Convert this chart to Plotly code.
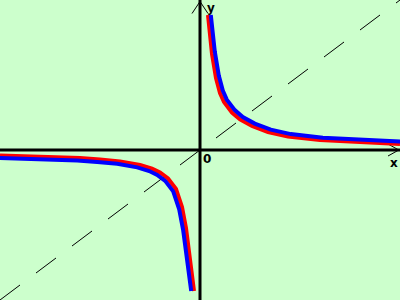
import plotly.graph_objects as go

# Red curve, first and third quadrants
red_q1_x = [0.2, 0.3, 0.4, 0.5, 0.6, 0.8, 1.0, 1.3, 1.7, 2.2, 3.0, 4.0, 5.0]
red_q1_y = [4.5, 3.2, 2.4, 1.9, 1.6, 1.25, 1.02, 0.8, 0.6, 0.45, 0.33, 0.25, 0.2]
red_q3_x = [-5.0, -4.0, -3.0, -2.5, -2.0, -1.5, -1.2, -1.0, -0.8, -0.6, -0.45, -0.35, -0.25, -0.15]
red_q3_y = [-0.18, -0.21, -0.27, -0.32, -0.38, -0.5, -0.62, -0.75, -0.95, -1.3, -1.9, -2.6, -3.6, -4.7]

# Blue curve
blue_q1_x = [0.27, 0.37, 0.47, 0.57, 0.67, 0.87, 1.07, 1.37, 1.77, 2.27, 3.07, 4.07, 5.07]
blue_q1_y = [4.5, 3.28, 2.48, 1.98, 1.68, 1.33, 1.1, 0.88, 0.68, 0.53, 0.41, 0.33, 0.28]
blue_q3_x = [-5.07, -4.07, -3.07, -2.57, -2.07, -1.57, -1.27, -1.07, -0.87, -0.67, -0.52, -0.42, -0.32, -0.22]
blue_q3_y = [-0.26, -0.29, -0.35, -0.4, -0.46, -0.58, -0.7, -0.83, -1.03, -1.38, -1.98, -2.68, -3.68, -4.7]

# Axis extent
axis_min, axis_max = -5, 5
diag_x = [axis_min, axis_max]
diag_y = [axis_min, axis_max]

fig = go.Figure()

# dashed y = x line
fig.add_trace(go.Scatter(x=diag_x, y=diag_y, mode="lines",
                         line=dict(color="black", width=1, dash="25px,20px"),
                         hoverinfo="skip", showlegend=False))

for xs, ys, col in [(red_q1_x, red_q1_y, "#ff0000"), (red_q3_x, red_q3_y, "#ff0000"),
                    (blue_q1_x, blue_q1_y, "#0000ff"), (blue_q3_x, blue_q3_y, "#0000ff")]:
    fig.add_trace(go.Scatter(x=xs, y=ys, mode="lines",
                             line=dict(color=col, width=4),
                             showlegend=False))

shapes = [
    # axes
    dict(type="line", x0=axis_min, x1=axis_max, y0=0, y1=0, line=dict(color="black", width=3)),
    dict(type="line", x0=0, x1=0, y0=axis_min, y1=axis_max, line=dict(color="black", width=3)),
    # y arrow head
    dict(type="line", x0=-0.2, y0=4.55, x1=0, y1=4.95, line=dict(color="black", width=1)),
    dict(type="line", x0=0.2, y0=4.55, x1=0, y1=4.95, line=dict(color="black", width=1)),
    # x arrow head
    dict(type="line", x0=4.7, y0=0.2, x1=4.97, y1=0, line=dict(color="black", width=1)),
    dict(type="line", x0=4.7, y0=-0.2, x1=4.97, y1=0, line=dict(color="black", width=1)),
]
for s in shapes:
    s.update(xref="x", yref="y", layer="below")

font = dict(family="DejaVu Sans", size=12, color="black")
annotations = [
    dict(x=0.28, y=4.74, text="<b>y</b>", showarrow=False, font=font, xref="x", yref="y"),
    dict(x=4.85, y=-0.42, text="<b>x</b>", showarrow=False, font=font, xref="x", yref="y"),
    dict(x=0.18, y=-0.3, text="<b>0</b>", showarrow=False, font=font, xref="x", yref="y"),
]

fig.update_layout(
    width=400, height=300,
    margin=dict(l=0, r=0, t=0, b=0),
    paper_bgcolor="#ccffcc", plot_bgcolor="#ccffcc",
    xaxis=dict(range=[axis_min, axis_max], visible=False, fixedrange=True),
    yaxis=dict(range=[axis_min, axis_max], visible=False, fixedrange=True),
    shapes=shapes, annotations=annotations,
    showlegend=False,
)

fig.write_html("out.html")
